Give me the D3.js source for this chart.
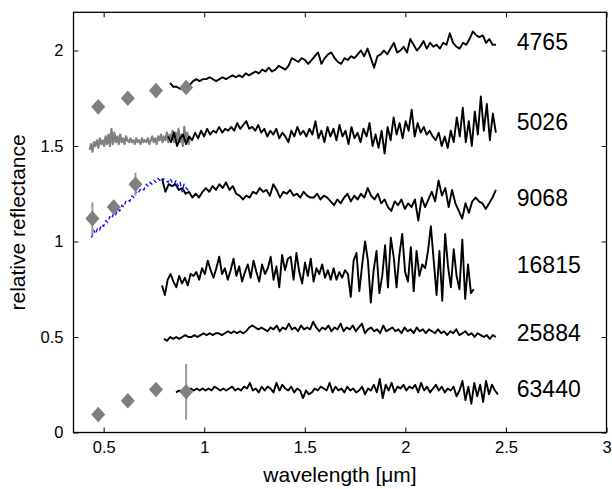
<!DOCTYPE html>
<html><head><meta charset="utf-8">
<script src="https://cdn.jsdelivr.net/npm/d3@7"></script>
<style>body{margin:0;background:#fff} text{font-family:"Liberation Sans",Arial,Helvetica,sans-serif;fill:#000}</style>
</head><body><svg id="c" width="612" height="489"></svg>
<script>
// ---------- DATA ----------
const xTicks = [0.5, 1, 1.5, 2, 2.5, 3];
const yTicks = [0, 0.5, 1, 1.5, 2];
const xTickLabels = ["0.5", "1", "1.5", "2", "2.5", "3"];
const yTickLabels = ["0", "0.5", "1", "1.5", "2"];
const asteroidNames = ["4765", "5026", "9068", "16815", "25884", "63440"];
const asteroidLabelLevel = [2.045, 1.626, 1.229, 0.876, 0.525, 0.229];

// NIR spectra: wavelength span [start, end] and reflectance values (evenly sampled)
const span4765 = [0.83, 2.45];
const nir4765 = [1.83,1.81,1.81,1.80,1.80,1.81,1.82,1.84,1.85,1.84,
 1.85,1.85,1.86,1.85,1.84,1.85,1.86,1.85,1.86,1.87,
 1.86,1.87,1.86,1.88,1.87,1.88,1.89,1.88,1.90,1.89,
 1.91,1.89,1.90,1.92,1.91,1.90,1.92,1.96,1.95,1.94,
 1.96,1.95,1.93,1.95,1.97,1.99,1.93,1.96,1.98,1.99,
 1.96,1.94,1.93,1.96,1.95,1.97,1.96,1.98,2.00,1.97,
 2.01,1.96,1.91,1.97,1.98,2.00,1.98,2.01,2.04,1.99,
 2.00,2.02,1.99,2.06,2.03,2.00,2.02,2.05,2.01,2.04,
 2.02,2.03,2.01,2.04,2.03,2.09,2.04,2.02,2.01,2.04,
 2.03,2.06,2.10,2.08,2.07,2.08,2.04,2.06,2.03,2.03];

const span5026 = [0.82, 2.45];
const nir5026 = [1.55,1.52,1.57,1.50,1.54,1.56,1.51,1.55,1.53,1.57,
 1.54,1.58,1.55,1.59,1.56,1.58,1.57,1.60,1.57,1.59,
 1.58,1.60,1.58,1.62,1.59,1.61,1.63,1.59,1.60,1.58,
 1.61,1.57,1.59,1.55,1.58,1.56,1.59,1.54,1.57,1.55,
 1.52,1.58,1.55,1.60,1.56,1.58,1.55,1.59,1.56,1.63,
 1.54,1.58,1.52,1.60,1.55,1.59,1.53,1.61,1.55,1.58,
 1.51,1.60,1.54,1.57,1.52,1.59,1.55,1.62,1.50,1.56,
 1.49,1.58,1.46,1.60,1.53,1.65,1.56,1.62,1.54,1.63,
 1.58,1.69,1.55,1.62,1.57,1.60,1.56,1.58,1.55,1.53,
 1.57,1.50,1.55,1.49,1.58,1.52,1.65,1.55,1.70,1.52,
 1.63,1.50,1.68,1.56,1.76,1.58,1.72,1.53,1.67,1.57];

const spanVis5026 = [0.43, 0.93];
const vis5026 = [1.48,1.51,1.47,1.52,1.50,1.53,1.49,1.54,1.51,1.53,
 1.50,1.55,1.51,1.56,1.50,1.59,1.51,1.57,1.52,1.55,
 1.51,1.56,1.52,1.54,1.51,1.55,1.53,1.52,1.54,1.52,
 1.53,1.51,1.54,1.52,1.53,1.51,1.54,1.52,1.53,1.52,
 1.54,1.51,1.53,1.55,1.52,1.54,1.51,1.55,1.53,1.56,
 1.52,1.55,1.53,1.57,1.52,1.56,1.54,1.58,1.52,1.57,
 1.53,1.59,1.52,1.56,1.50,1.60,1.53,1.57,1.51,1.55];

const span9068 = [0.79, 2.45];
const nir9068 = [1.33,1.26,1.30,1.29,1.30,1.27,1.28,1.25,1.26,1.23,
 1.25,1.23,1.26,1.28,1.26,1.29,1.27,1.30,1.28,1.31,
 1.27,1.29,1.25,1.24,1.22,1.24,1.23,1.26,1.25,1.28,
 1.26,1.27,1.24,1.30,1.27,1.23,1.26,1.25,1.27,1.24,
 1.25,1.23,1.26,1.24,1.23,1.23,1.25,1.22,1.24,1.23,
 1.21,1.19,1.22,1.20,1.23,1.25,1.21,1.24,1.22,1.25,
 1.23,1.28,1.24,1.22,1.25,1.20,1.22,1.18,1.16,1.21,
 1.19,1.22,1.17,1.20,1.18,1.22,1.11,1.23,1.18,1.22,
 1.26,1.21,1.32,1.24,1.28,1.18,1.27,1.20,1.16,1.12,
 1.20,1.15,1.21,1.23,1.21,1.20,1.17,1.20,1.23,1.27];

const spanVis9068 = [0.44, 0.93];
const vis9068 = [1.02,1.06,1.04,1.07,1.06,1.09,1.08,1.11,1.10,1.13,
 1.12,1.15,1.14,1.17,1.16,1.19,1.18,1.21,1.22,1.21,
 1.24,1.23,1.26,1.25,1.27,1.28,1.27,1.30,1.29,1.31,
 1.30,1.32,1.31,1.33,1.32,1.31,1.33,1.32,1.31,1.33,
 1.31,1.30,1.32,1.29,1.31,1.26,1.30,1.28,1.27,1.28];

const span16815 = [0.79, 2.34];
const nir16815 = [0.77,0.72,0.80,0.83,0.79,0.76,0.82,0.78,0.81,0.77,
 0.83,0.82,0.84,0.80,0.86,0.83,0.90,0.85,0.81,0.86,
 0.92,0.83,0.86,0.80,0.85,0.91,0.82,0.87,0.79,0.84,
 0.88,0.81,0.90,0.84,0.79,0.88,0.83,0.86,0.92,0.80,
 0.87,0.76,0.93,0.85,0.91,0.92,0.80,0.94,0.84,0.78,
 0.89,0.82,0.91,0.79,0.86,0.83,0.88,0.81,0.85,0.80,
 0.86,0.80,0.84,0.81,0.85,0.83,0.71,0.90,0.94,0.74,
 0.88,1.00,0.90,0.68,0.85,0.95,0.73,0.82,0.98,0.76,
 1.02,0.92,0.76,0.93,1.04,0.84,0.79,0.97,0.74,0.95,
 0.82,0.88,0.86,0.95,1.08,0.90,0.72,0.95,0.69,1.04,
 0.87,0.76,0.96,0.82,0.75,1.01,0.70,0.88,0.73,0.75];

const span25884 = [0.80, 2.45];
const nir25884 = [0.49,0.48,0.50,0.49,0.50,0.49,0.50,0.51,0.50,0.50,
 0.51,0.50,0.51,0.52,0.51,0.52,0.51,0.52,0.52,0.51,
 0.52,0.53,0.52,0.53,0.52,0.53,0.52,0.53,0.55,0.56,
 0.55,0.54,0.55,0.54,0.53,0.55,0.54,0.56,0.53,0.55,
 0.54,0.57,0.54,0.55,0.53,0.56,0.54,0.55,0.54,0.58,
 0.55,0.53,0.55,0.54,0.56,0.53,0.55,0.54,0.57,0.53,
 0.55,0.54,0.56,0.53,0.55,0.57,0.52,0.54,0.55,0.53,
 0.54,0.52,0.56,0.53,0.54,0.55,0.53,0.54,0.52,0.55,
 0.53,0.54,0.52,0.55,0.53,0.54,0.52,0.54,0.53,0.52,
 0.54,0.52,0.53,0.51,0.53,0.52,0.54,0.51,0.52,0.53,
 0.51,0.52,0.50,0.52,0.51,0.50,0.51,0.49,0.51,0.50];

const span63440 = [0.86, 2.46];
const nir63440 = [0.21,0.22,0.21,0.23,0.22,0.23,0.22,0.23,0.22,0.23,
 0.22,0.23,0.22,0.24,0.23,0.22,0.23,0.22,0.23,0.24,
 0.22,0.23,0.22,0.24,0.23,0.26,0.22,0.23,0.21,0.24,
 0.22,0.24,0.23,0.21,0.26,0.22,0.25,0.23,0.22,0.24,
 0.21,0.23,0.22,0.18,0.22,0.20,0.21,0.23,0.22,0.24,
 0.23,0.22,0.26,0.21,0.24,0.22,0.23,0.21,0.24,0.22,
 0.23,0.21,0.22,0.24,0.20,0.23,0.22,0.25,0.21,0.28,
 0.18,0.25,0.22,0.26,0.21,0.24,0.23,0.25,0.22,0.24,
 0.23,0.25,0.21,0.26,0.22,0.24,0.21,0.23,0.25,0.22,
 0.24,0.21,0.23,0.22,0.24,0.19,0.22,0.27,0.17,0.24,
 0.15,0.26,0.19,0.25,0.16,0.27,0.20,0.25,0.22,0.20];

// photometric points (diamonds) with error half-widths
const photW4765 = [0.473, 0.62, 0.76, 0.91];
const photR4765 = [1.705, 1.75, 1.79, 1.806];
const photE4765 = [0, 0, 0, 0];
const photW9068 = [0.444, 0.55, 0.658];
const photR9068 = [1.12, 1.18, 1.30];
const photE9068 = [0.085, 0, 0.06];
const photW63440 = [0.473, 0.62, 0.76, 0.91];
const photR63440 = [0.094, 0.166, 0.225, 0.213];
const photE63440 = [0, 0, 0, 0.146];

// ---------- CHART ----------
(function () {
const svg = d3.select("#c");
const L = 73.5, R = 606.5, T = 12.3, B = 432.5;
const x = d3.scaleLinear().domain([0.35, 3]).range([L, R]);
const y = d3.scaleLinear().domain([0, 2.2]).range([B, T]);

function pts(span, vals) {
  const n = vals.length;
  return vals.map((v, i) => [span[0] + (span[1] - span[0]) * i / (n - 1), v]);
}
const line = d3.line().x(d => x(d[0])).y(d => y(d[1]));

const g = svg.append("g");
function drawLine(data, color, width, dash) {
  const p = g.append("path").attr("d", line(data)).attr("fill", "none")
    .attr("stroke", color).attr("stroke-width", width)
    .attr("stroke-linejoin", "round");
  if (dash) p.attr("stroke-dasharray", dash);
}

drawLine(pts(spanVis5026, vis5026), "#808080", 2.2);
drawLine(pts(span4765, nir4765), "#000", 1.9);
drawLine(pts(span5026, nir5026), "#000", 1.9);
drawLine(pts(span9068, nir9068), "#000", 1.9);
drawLine(pts(spanVis9068, vis9068), "#0000ff", 1.3, "4,3");
drawLine(pts(span16815, nir16815), "#000", 1.9);
drawLine(pts(span25884, nir25884), "#000", 1.9);
drawLine(pts(span63440, nir63440), "#000", 1.9);

// diamonds + error bars
const dia = "M0,-7.8L7,0L0,7.8L-7,0Z";
[[photW4765, photR4765, photE4765], [photW9068, photR9068, photE9068], [photW63440, photR63440, photE63440]]
  .forEach(([ws, rs, es]) => {
    ws.forEach((w, i) => {
      if (es[i] > 0) {
        g.append("line").attr("x1", x(w)).attr("x2", x(w))
          .attr("y1", y(rs[i] - es[i])).attr("y2", y(rs[i] + es[i]))
          .attr("stroke", "#9a9a9a").attr("stroke-width", 2);
      }
      g.append("path").attr("d", dia)
        .attr("transform", `translate(${x(w)},${y(rs[i])})`)
        .attr("fill", "#7f7f7f");
    });
  });

// axes
const axB = svg.append("g").attr("transform", `translate(0,${B})`)
  .call(d3.axisBottom(x).tickValues(xTicks).tickFormat((d, i) => xTickLabels[i])
    .tickSizeInner(-5).tickSizeOuter(0).tickPadding(9));
const axT = svg.append("g").attr("transform", `translate(0,${T})`)
  .call(d3.axisTop(x).tickValues(xTicks).tickFormat("").tickSizeInner(-5).tickSizeOuter(0));
const axL = svg.append("g").attr("transform", `translate(${L},0)`)
  .call(d3.axisLeft(y).tickValues(yTicks).tickFormat((d, i) => yTickLabels[i])
    .tickSizeInner(-5).tickSizeOuter(0).tickPadding(10));
const axR = svg.append("g").attr("transform", `translate(${R},0)`)
  .call(d3.axisRight(y).tickValues(yTicks).tickFormat("").tickSizeInner(-5).tickSizeOuter(0));
[axB, axT, axL, axR].forEach(a => {
  a.select(".domain").remove();
  a.selectAll(".tick line").attr("stroke", "#000").attr("stroke-width", 1);
  a.selectAll("text").attr("font-size", 16.5).attr("font-family", '"Liberation Sans",Arial,sans-serif').attr("fill", "#000");
});
svg.append("rect").attr("x", L).attr("y", T).attr("width", R - L).attr("height", B - T)
  .attr("fill", "none").attr("stroke", "#000").attr("stroke-width", 1.3);

// titles
svg.append("text").attr("x", (L + R) / 2).attr("y", 482).attr("text-anchor", "middle")
  .attr("font-size", 21).text("wavelength [μm]");
svg.append("text").attr("transform", `translate(25,${(T + B) / 2}) rotate(-90)`)
  .attr("text-anchor", "middle").attr("font-size", 21).text("relative reflectance");

// asteroid labels
asteroidNames.forEach((nm, i) => {
  svg.append("text").attr("x", x(2.554)).attr("y", y(asteroidLabelLevel[i]) + 8.3)
    .attr("font-size", 23).text(nm);
});
})();
</script></body></html>
